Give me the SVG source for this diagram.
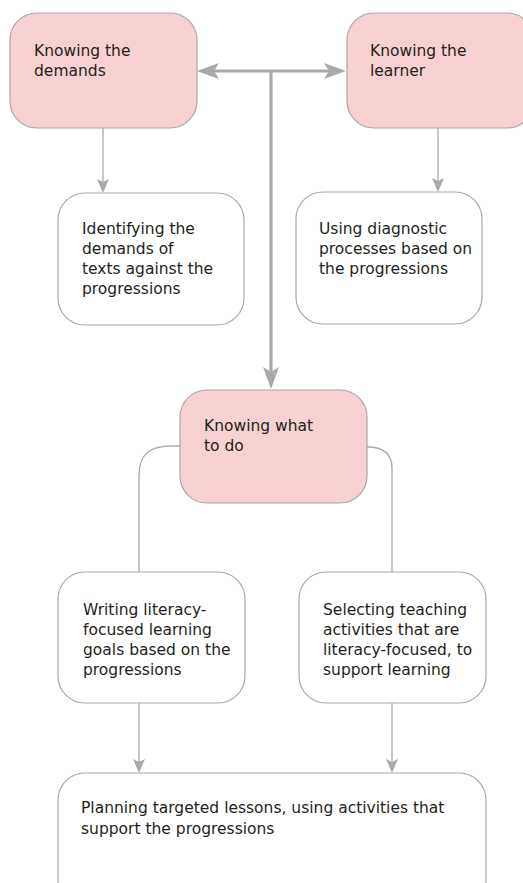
<svg xmlns="http://www.w3.org/2000/svg" width="523" height="883" viewBox="0 0 523 883">
  <style>
    .pink { fill: #f8d1d3; stroke: #a7a9ac; stroke-width: 1.2; }
    .white { fill: #ffffff; stroke: #a7a9ac; stroke-width: 1.2; }
    .t { font-family: "DejaVu Sans", "Liberation Sans", sans-serif; font-size: 15.5px; fill: #231f20; }
    .thick { fill: none; stroke: #a7a9ac; stroke-width: 3.2; }
    .thin { fill: none; stroke: #a7a9ac; stroke-width: 1.3; }
  </style>
  <defs>
    <marker id="bigArrow" viewBox="0 0 22 16" refX="5" refY="8" markerWidth="22" markerHeight="16" markerUnits="userSpaceOnUse" orient="auto-start-reverse">
      <path d="M0,0 L22,8 L0,16 L5,8 Z" fill="#a7a9ac"/>
    </marker>
    <marker id="smallArrow" viewBox="0 0 14 12" refX="3" refY="6" markerWidth="14" markerHeight="12" markerUnits="userSpaceOnUse" orient="auto">
      <path d="M0,0 L14,6 L0,12 L3,6 Z" fill="#a7a9ac"/>
    </marker>
  </defs>

  <g id="connectors">
    <path class="thick" d="M214,71 H329" marker-start="url(#bigArrow)" marker-end="url(#bigArrow)"/>
    <path class="thick" d="M271,71 V372" marker-end="url(#bigArrow)"/>
    <path class="thin" d="M103,128 V182" marker-end="url(#smallArrow)"/>
    <path class="thin" d="M438,128 V181" marker-end="url(#smallArrow)"/>
    <path class="thin" d="M180,446 H172 C152,446 139,452 139,476 V572"/>
    <path class="thin" d="M367,447 C382,447 392,453 392,468 V572"/>
    <path class="thin" d="M139,703 V762" marker-end="url(#smallArrow)"/>
    <path class="thin" d="M392,703 V762" marker-end="url(#smallArrow)"/>
  </g>

  <g id="knowing-demands">
    <rect class="pink" x="10" y="13" width="187" height="115" rx="27" ry="27"/>
    <text class="t" x="34" y="56">Knowing the</text>
    <text class="t" x="34" y="76">demands</text>
  </g>

  <g id="knowing-learner">
    <rect class="pink" x="347" y="13" width="187" height="115" rx="27" ry="27"/>
    <text class="t" x="370" y="56">Knowing the</text>
    <text class="t" x="370" y="76">learner</text>
  </g>

  <g id="identifying">
    <rect class="white" x="58" y="193" width="186" height="132" rx="27" ry="27"/>
    <text class="t" x="82" y="234">Identifying the</text>
    <text class="t" x="82" y="254">demands of</text>
    <text class="t" x="82" y="274">texts against the</text>
    <text class="t" x="82" y="294">progressions</text>
  </g>

  <g id="using-diagnostic">
    <rect class="white" x="296" y="192" width="186" height="132" rx="27" ry="27"/>
    <text class="t" x="319" y="234">Using diagnostic</text>
    <text class="t" x="319" y="254">processes based on</text>
    <text class="t" x="319" y="274">the progressions</text>
  </g>

  <g id="knowing-what-to-do">
    <rect class="pink" x="180" y="390" width="187" height="113" rx="27" ry="27"/>
    <text class="t" x="204" y="431">Knowing what</text>
    <text class="t" x="204" y="451">to do</text>
  </g>

  <g id="writing-goals">
    <rect class="white" x="58" y="572" width="187" height="131" rx="27" ry="27"/>
    <text class="t" x="83" y="615">Writing literacy-</text>
    <text class="t" x="83" y="635">focused learning</text>
    <text class="t" x="83" y="655">goals based on the</text>
    <text class="t" x="83" y="675">progressions</text>
  </g>

  <g id="selecting-activities">
    <rect class="white" x="299" y="572" width="187" height="131" rx="27" ry="27"/>
    <text class="t" x="323" y="615">Selecting teaching</text>
    <text class="t" x="323" y="635">activities that are</text>
    <text class="t" x="323" y="655">literacy-focused, to</text>
    <text class="t" x="323" y="675">support learning</text>
  </g>

  <g id="planning-lessons">
    <rect class="white" x="58" y="773" width="428" height="135" rx="27" ry="27"/>
    <text class="t" x="81" y="813">Planning targeted lessons, using activities that</text>
    <text class="t" x="81" y="834">support the progressions</text>
  </g>
</svg>
